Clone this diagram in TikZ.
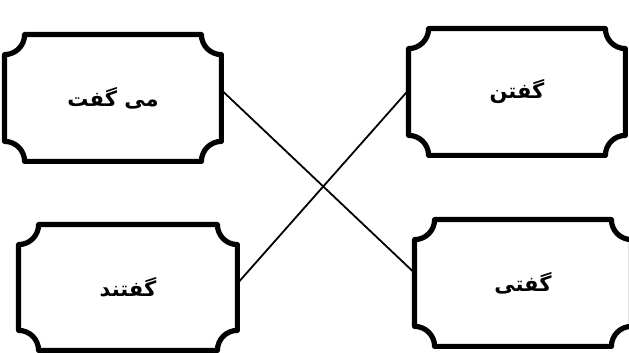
\documentclass[tikz,border=0pt]{standalone}
\usepackage{fontspec}
\newfontfamily\farsifont[Script=Arabic]{DejaVu Sans}
\TeXXeTstate=1
\usetikzlibrary{calc}
\tikzset{
  plaque/.style={rectangle, minimum width=108pt, minimum height=63pt, inner sep=0pt, font=\farsifont\bfseries\fontsize{10.5}{13}\selectfont},
  frame/.style={line width=2.6pt, line join=round},
  link/.style={line width=0.9pt}
}
\newcommand{\notchframe}[2][10pt]{%
\draw[frame] ([xshift=#1]#2.north west) -- ([xshift=-#1]#2.north east)
  arc[start angle=180, end angle=270, radius=#1] -- ([yshift=#1]#2.south east)
  arc[start angle=90, end angle=180, radius=#1] -- ([xshift=#1]#2.south west)
  arc[start angle=0, end angle=90, radius=#1] -- ([yshift=-#1]#2.north west)
  arc[start angle=270, end angle=360, radius=#1] -- cycle;}

\begin{document}
\begin{tikzpicture}[x=0.5pt, y=0.5pt]
\useasboundingbox[fill=white] (0,0) rectangle (629,353);
\node[plaque] (migoft) at (113,255) {\beginR می گفت\endR};
\node[plaque] (goftan) at (517,261) {\beginR گفتن\endR};
\node[plaque, minimum width=109pt, minimum height=62.5pt] (goftand) at (128,65.5) {\beginR گفتند\endR};
\node[plaque] (gofti) at (523,70) {\beginR گفتی\endR};
\notchframe{migoft} \notchframe{goftan} \notchframe{goftand} \notchframe{gofti}
\draw[link] ([yshift=4pt]migoft.east) -- ([yshift=5pt]gofti.west);
\draw[link] ([yshift=2pt]goftand.east) -- ([yshift=1pt]goftan.west);
\end{tikzpicture}
\end{document}
